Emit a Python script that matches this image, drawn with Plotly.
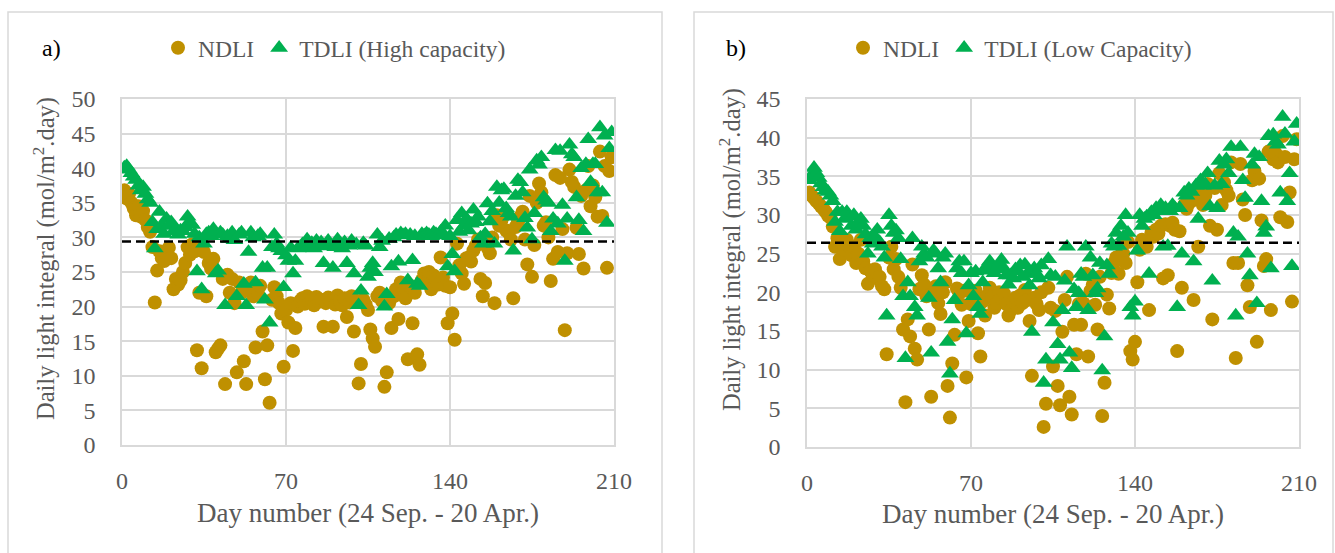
import plotly.graph_objects as go

# ---------------- data ----------------
days = list(range(1, 210))

ndli_a = [36.8, 35.6, 36.3, 35.0, 34.2, 33.2, 34.5, 33.0, 33.8, 32.5,
          31.5, 30.8, 28.6, 20.6, 25.2, 28.0, 27.0, 26.6, 27.6, 28.5,
          27.0, 22.5, 24.0, 23.2, 23.8, 25.0, 26.3, 28.6, 27.5, 29.0,
          28.0, 13.7, 22.0, 11.1, 27.9, 21.5, 26.3, 25.5, 26.9, 13.4,
          13.9, 14.4, 24.0, 8.8, 24.6, 22.0, 24.0, 20.5, 10.5, 23.5,
          22.0, 12.1, 8.8, 22.5, 23.5, 21.5, 14.1, 22.0, 23.0, 16.4,
          9.5, 14.4, 6.1, 21.0, 22.8, 21.5, 20.5, 19.0, 11.3, 19.5,
          17.7, 20.5, 13.6, 16.9, 20.0, 20.8, 21.2, 20.4, 21.5, 20.6,
          21.0, 20.2, 21.4, 20.7, 21.0, 17.1, 20.5, 21.3, 20.8, 17.1,
          20.3, 21.6, 20.9, 20.2, 21.2, 18.5, 20.6, 21.5, 16.4, 20.8,
          8.9, 11.7, 21.0, 20.3, 19.5, 16.7, 15.4, 14.2, 21.5, 22.0,
          20.8, 8.4, 10.5, 20.5, 16.9, 21.5, 22.5, 18.2, 23.5, 22.0,
          21.2, 12.4, 23.0, 17.6, 22.0, 13.1, 11.6, 23.8, 24.8, 23.5,
          25.0, 22.5, 24.5, 24.0, 23.2, 27.1, 24.2, 23.0, 17.6, 22.8,
          19.0, 15.2, 29.1, 26.0, 24.8, 23.3, 27.0, 27.1, 26.5, 28.1,
          28.8, 29.7, 24.0, 21.5, 23.4, 28.5, 27.7, 30.0, 20.5, 33.2,
          31.7, 32.5, 33.2, 31.0, 30.7, 29.7, 21.2, 31.5, 32.2, 33.0,
          33.7, 29.7, 26.1, 36.0, 24.3, 28.9, 35.0, 37.8, 36.5, 31.7,
          32.2, 30.0, 23.7, 26.9, 39.0, 27.9, 38.6, 31.2, 16.6, 27.7,
          39.8, 38.0, 37.3, 31.4, 27.6, 36.0, 25.5, 36.8, 40.3, 34.5,
          37.5, 35.8, 33.0, 42.4, 33.1, 40.3, 25.6, 39.6, 41.6]

tdli_a = [40.1, 40.3, 39.8, 39.3, 38.8, 38.3, 37.5, 36.8, 37.3, 36.3,
          35.5, 35.0, 32.2, 28.4, 31.2, 33.7, 31.7, 30.5, 32.7, 31.7,
          32.2, 30.9, 31.2, 30.4, 31.0, 30.9, 31.5, 33.0, 32.2, 31.8,
          30.5, 25.1, 30.0, 22.5, 29.1, 30.5, 30.7, 30.2, 31.2, 24.8,
          25.2, 30.7, 30.4, 20.2, 30.2, 29.8, 30.7, 29.6, 21.5, 30.4,
          30.7, 23.3, 20.2, 27.9, 30.7, 30.0, 23.5, 30.2, 30.5, 25.6,
          21.0, 25.6, 17.7, 28.6, 30.4, 29.1, 28.4, 28.0, 22.8, 27.4,
          26.6, 28.5, 24.8, 26.6, 28.4, 28.6, 29.0, 28.5, 29.7, 28.8,
          29.2, 28.4, 29.5, 28.9, 29.3, 26.3, 28.7, 29.5, 28.8, 25.6,
          28.6, 29.7, 29.0, 28.4, 29.3, 26.3, 28.8, 29.5, 24.8, 29.0,
          20.2, 22.3, 29.2, 28.8, 24.3, 25.6, 26.3, 25.0, 30.4, 28.6,
          29.5, 20.0, 21.8, 29.8, 25.8, 30.0, 30.4, 26.5, 30.6, 30.3,
          30.5, 23.8, 30.4, 26.7, 30.2, 23.3, 23.0, 30.5, 30.3, 30.6,
          30.4, 30.2, 30.7, 30.5, 30.3, 30.8, 30.6, 31.7, 25.8, 30.2,
          27.6, 25.1, 32.5, 30.8, 33.5, 31.7, 32.7, 31.0, 32.0, 34.0,
          32.2, 33.0, 30.0, 29.1, 30.5, 34.9, 32.3, 33.8, 29.1, 37.3,
          35.0, 36.8, 37.0, 34.2, 33.5, 33.0, 28.1, 36.0, 38.3, 38.0,
          36.5, 32.8, 31.4, 39.8, 29.7, 33.5, 41.1, 40.5, 41.6, 35.8,
          35.3, 35.0, 30.9, 32.7, 42.6, 32.0, 42.5, 34.7, 26.6, 32.7,
          43.4, 42.0, 41.6, 35.8, 32.5, 40.0, 30.9, 40.6, 44.2, 38.0,
          40.6, 40.6, 36.5, 45.9, 36.5, 44.7, 32.1, 42.9, 45.2]

ndli_b = [32.9, 32.5, 32.2, 31.8, 31.5, 31.1, 30.8, 30.4, 29.9, 29.7,
          28.5, 25.9, 27.0, 24.3, 26.3, 25.5, 26.8, 26.0, 24.8, 25.9,
          23.8, 25.0, 26.8, 24.0, 23.1, 21.1, 22.8, 22.2, 23.0, 21.8,
          22.0, 20.8, 20.4, 12.0, 24.5, 25.9, 23.0, 24.3, 22.0, 20.6,
          15.2, 5.8, 16.5, 14.3, 23.6, 12.7, 11.3, 20.4, 22.2, 21.0,
          19.5, 15.2, 6.5, 19.9, 20.8, 18.6, 17.2, 20.0, 21.3, 7.9,
          3.8, 10.8, 14.5, 20.5, 19.9, 18.4, 20.2, 9.0, 16.3, 18.5,
          19.0, 20.2, 14.7, 11.7, 18.8, 17.0, 19.6, 20.6, 19.4, 18.0,
          18.6, 20.0, 19.2, 19.9, 18.5, 17.0, 17.7, 18.8, 19.3, 18.0,
          19.6, 18.6, 20.3, 19.0, 16.3, 9.2, 19.3, 18.5, 17.7, 20.0,
          2.6, 5.6, 20.6, 18.0, 10.4, 17.6, 7.9, 5.4, 14.9, 19.0,
          22.0, 6.5, 4.2, 15.8, 12.0, 18.5, 15.8, 18.6, 22.4, 11.7,
          20.2, 21.0, 18.4, 15.2, 22.0, 4.0, 8.3, 19.7, 17.9, 22.5,
          23.8, 24.5, 22.4, 26.0, 25.0, 23.8, 26.5, 12.4, 11.3, 13.6,
          21.3, 25.5, 26.8, 26.5, 25.9, 17.7, 27.7, 27.2, 28.1, 27.6,
          28.6, 21.8, 28.8, 22.2, 28.6, 29.0, 28.1, 12.4, 27.9, 20.6,
          31.3, 30.8, 31.5, 31.8, 19.0, 32.0, 25.9, 33.2, 31.3, 32.5,
          34.0, 28.6, 16.5, 33.5, 28.1, 35.4, 31.3, 34.2, 33.2, 32.5,
          36.8, 23.8, 11.5, 23.8, 36.6, 32.0, 30.0, 20.9, 18.1, 34.5,
          35.7, 13.6, 34.7, 29.3, 23.4, 24.3, 38.2, 17.7, 37.2, 38.0,
          36.8, 29.7, 40.2, 37.5, 29.1, 32.9, 18.8, 37.2, 39.8]

tdli_b = [34.5, 35.2, 36.1, 35.4, 34.8, 34.1, 33.6, 33.2, 33.0, 32.5,
          31.8, 29.1, 30.4, 27.9, 30.4, 29.5, 30.4, 29.8, 28.6, 30.0,
          28.1, 29.0, 29.5, 28.6, 27.5, 25.0, 27.0, 26.3, 27.2, 28.1,
          26.5, 25.9, 24.5, 17.0, 30.0, 28.6, 27.7, 28.0, 27.0, 24.3,
          19.5, 11.5, 21.3, 19.5, 27.0, 18.1, 17.0, 24.0, 25.9, 25.0,
          24.5, 19.3, 12.2, 25.4, 25.0, 23.1, 21.3, 24.5, 25.0, 13.6,
          9.5, 16.5, 19.0, 23.1, 24.0, 22.5, 24.0, 14.7, 20.9, 22.5,
          19.5, 22.7, 18.1, 17.2, 21.3, 23.1, 22.8, 24.0, 23.5, 22.5,
          23.0, 23.6, 24.2, 23.1, 22.2, 21.0, 22.2, 21.8, 23.0, 22.7,
          23.5, 22.0, 23.6, 22.4, 20.9, 14.9, 23.1, 22.4, 21.8, 23.5,
          8.3, 11.3, 24.3, 22.2, 16.1, 22.0, 13.3, 11.3, 17.7, 21.5,
          25.9, 12.2, 10.2, 20.4, 18.1, 19.9, 22.4, 22.0, 25.9, 17.7,
          24.5, 22.2, 19.9, 20.5, 23.8, 9.9, 14.3, 23.5, 22.4, 26.3,
          25.9, 27.7, 26.0, 28.6, 27.2, 30.0, 27.7, 18.1, 17.0, 18.8,
          25.4, 30.0, 28.6, 29.5, 29.8, 22.4, 30.4, 30.0, 30.9, 30.5,
          31.3, 25.9, 30.9, 26.0, 30.5, 31.3, 30.9, 18.1, 30.9, 25.0,
          32.9, 32.5, 33.4, 33.0, 24.0, 33.8, 29.5, 34.5, 33.8, 34.0,
          35.4, 31.1, 21.5, 33.8, 30.9, 37.0, 34.0, 36.5, 37.2, 35.4,
          38.8, 27.7, 17.0, 27.2, 38.8, 34.5, 32.2, 25.0, 22.2, 36.5,
          37.9, 18.6, 37.5, 31.8, 27.7, 28.5, 40.2, 23.1, 40.4, 39.5,
          39.1, 32.9, 42.7, 40.5, 31.8, 35.4, 23.4, 39.5, 41.8]

target_span = [0, 210]
target_a = 29.4
target_b = 26.4

x_ticks = [0, 70, 140, 210]
y_ticks_a = [0, 5, 10, 15, 20, 25, 30, 35, 40, 45, 50]
y_ticks_b = [0, 5, 10, 15, 20, 25, 30, 35, 40, 45]

name_nd = "NDLI"
name_a = "TDLI (High capacity)"
name_b = "TDLI (Low Capacity)"
x_title = "Day number (24 Sep. - 20 Apr.)"
y_title = "Daily light integral (mol/m<sup>2</sup>.day)"

# ---------------- styling ----------------
W, H = 1335, 553
GOLD = "#BF9000"
GREEN = "#00B050"
GRID = "#D9D9D9"
TXT = "#595959"
FONT = "Liberation Serif"


def px(v):
    return v / W


def py(v):
    return (H - v) / H


fig = go.Figure()

# panel a
fig.add_trace(go.Scatter(x=days, y=ndli_a, mode="markers", name=name_nd,
                         marker=dict(symbol="circle", size=14, color=GOLD),
                         xaxis="x", yaxis="y", legend="legend"))
fig.add_trace(go.Scatter(x=days, y=tdli_a, mode="markers", name=name_a,
                         marker=dict(symbol="triangle-up", size=15.5, color=GREEN),
                         xaxis="x", yaxis="y", legend="legend"))
fig.add_trace(go.Scatter(x=target_span, y=[target_a, target_a], mode="lines",
                         line=dict(color="black", width=2.5, dash="9px,5px"),
                         showlegend=False, hoverinfo="skip", xaxis="x", yaxis="y"))

# panel b
fig.add_trace(go.Scatter(x=days, y=ndli_b, mode="markers", name=name_nd,
                         marker=dict(symbol="circle", size=14, color=GOLD),
                         xaxis="x2", yaxis="y2", legend="legend2"))
fig.add_trace(go.Scatter(x=days, y=tdli_b, mode="markers", name=name_b,
                         marker=dict(symbol="triangle-up", size=15.5, color=GREEN),
                         xaxis="x2", yaxis="y2", legend="legend2"))
fig.add_trace(go.Scatter(x=target_span, y=[target_b, target_b], mode="lines",
                         line=dict(color="black", width=2.5, dash="9px,5px"),
                         showlegend=False, hoverinfo="skip", xaxis="x2", yaxis="y2"))

axis_common = dict(showgrid=True, gridcolor=GRID, gridwidth=1.5,
                   showline=True, linecolor=GRID, linewidth=1.5, mirror=True,
                   zeroline=False, ticks="", automargin=False,
                   tickfont=dict(family=FONT, size=24, color=TXT))

fig.update_layout(
    width=W, height=H,
    margin=dict(l=0, r=0, t=0, b=0, autoexpand=False),
    paper_bgcolor="white", plot_bgcolor="white",
    font=dict(family=FONT, color=TXT),
    xaxis=dict(domain=[px(122), px(614)], range=[0, 210], tickvals=x_ticks,
               anchor="y", ticklabelstandoff=13, **axis_common),
    yaxis=dict(domain=[py(445), py(99)], range=[0, 50], tickvals=y_ticks_a,
               anchor="x", ticklabelstandoff=20, **axis_common),
    xaxis2=dict(domain=[px(807), px(1299)], range=[0, 210], tickvals=x_ticks,
                anchor="y2", ticklabelstandoff=13, **axis_common),
    yaxis2=dict(domain=[py(447), py(99)], range=[0, 45], tickvals=y_ticks_b,
                anchor="x2", ticklabelstandoff=20, **axis_common),
    legend=dict(orientation="h", x=px(158), xanchor="left", y=py(48), yanchor="middle",
                font=dict(family=FONT, size=23.5, color=TXT), bgcolor="rgba(0,0,0,0)"),
    legend2=dict(orientation="h", x=px(843), xanchor="left", y=py(48), yanchor="middle",
                 font=dict(family=FONT, size=23.5, color=TXT), bgcolor="rgba(0,0,0,0)"),
    showlegend=True,
)

# panel frames
fig.add_shape(type="rect", xref="paper", yref="paper",
              x0=px(8), x1=px(662), y0=-0.05, y1=py(12),
              line=dict(color=GRID, width=1.5), fillcolor="rgba(0,0,0,0)", layer="below")
fig.add_shape(type="rect", xref="paper", yref="paper",
              x0=px(694), x1=px(1333), y0=-0.05, y1=py(12),
              line=dict(color=GRID, width=1.5), fillcolor="rgba(0,0,0,0)", layer="below")

common_ann = dict(xref="paper", yref="paper", showarrow=False, xanchor="center", yanchor="middle")
ann = [
    dict(text="a)", x=px(51), y=py(48), font=dict(family=FONT, size=24, color="black"), **common_ann),
    dict(text="b)", x=px(736), y=py(48), font=dict(family=FONT, size=24, color="black"), **common_ann),
    dict(text=x_title, x=px(368), y=py(513), font=dict(family=FONT, size=27, color=TXT), **common_ann),
    dict(text=x_title, x=px(1053), y=py(514), font=dict(family=FONT, size=27, color=TXT), **common_ann),
    dict(text=y_title, x=px(44), y=py(259), textangle=-90,
         font=dict(family=FONT, size=24.5, color=TXT), **common_ann),
    dict(text=y_title, x=px(730), y=py(250), textangle=-90,
         font=dict(family=FONT, size=24.5, color=TXT), **common_ann),
]
fig.update_layout(annotations=ann)

fig.write_html("out.html")
